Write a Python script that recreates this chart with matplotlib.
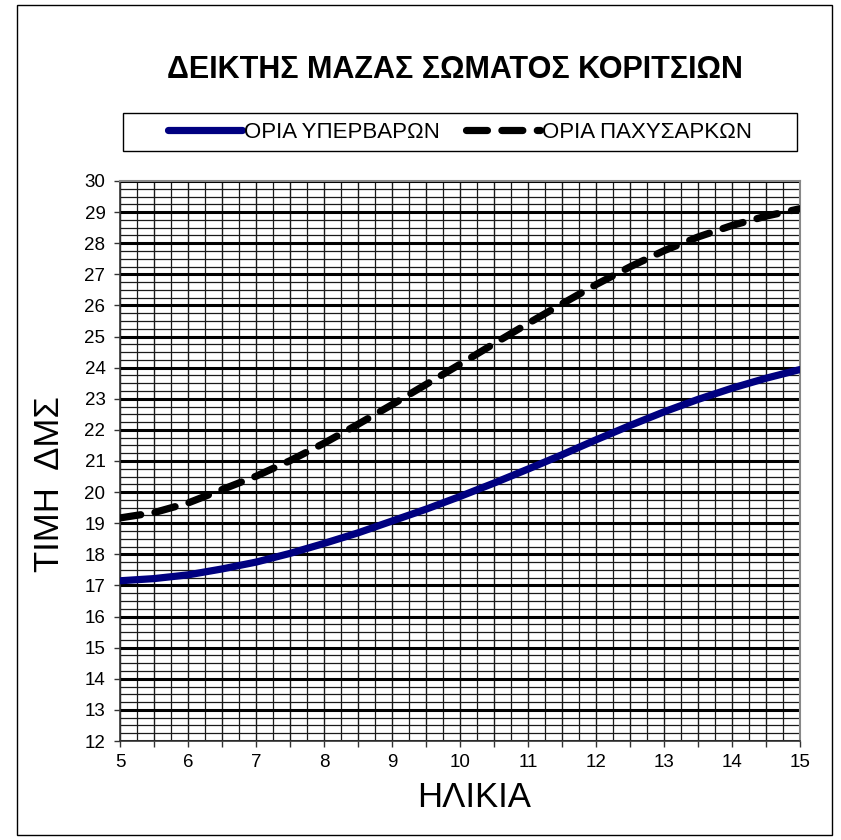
"""
BMI cut-off curves for girls (overweight / obese), 5-15 years.
"""

import matplotlib.pyplot as plt
import numpy as np
from matplotlib.patches import Rectangle

ages = [5, 5.5, 6, 6.5, 7, 7.5, 8, 8.5, 9, 9.5, 10,
        10.5, 11, 11.5, 12, 12.5, 13, 13.5, 14, 14.5, 15]
overweight = [17.15, 17.22, 17.34, 17.53, 17.75, 18.03, 18.35, 18.69, 19.07, 19.45, 19.86,
              20.29, 20.74, 21.20, 21.68, 22.14, 22.58, 22.98, 23.34, 23.66, 23.94]
obese = [19.17, 19.34, 19.65, 20.08, 20.51, 21.01, 21.57, 22.18, 22.81, 23.46, 24.11,
         24.77, 25.42, 26.05, 26.67, 27.24, 27.76, 28.20, 28.57, 28.87, 29.11]

x_ticks = [5, 5.5, 6, 6.5, 7, 7.5, 8, 8.5, 9, 9.5, 10, 10.5, 11, 11.5, 12, 12.5, 13, 13.5, 14, 14.5, 15]
x_labels = ["5", "", "6", "", "7", "", "8", "", "9", "", "10", "", "11", "", "12", "", "13", "", "14", "", "15"]
y_ticks = list(range(12, 31))

title = "ΔΕΙΚΤΗΣ ΜΑΖΑΣ ΣΩΜΑΤΟΣ ΚΟΡΙΤΣΙΩΝ"
series_names = ["ΟΡΙΑ ΥΠΕΡΒΑΡΩΝ", "ΟΡΙΑ ΠΑΧΥΣΑΡΚΩΝ"]

plt.rcParams["font.family"] = ["Liberation Sans", "DejaVu Sans"]

W, H = 841, 840
fig = plt.figure(figsize=(W / 100, H / 100), dpi=100)

# outer chart border
fig.patches.append(Rectangle((17 / W, 5 / H), (832 - 17) / W, (835 - 5) / H,
                             transform=fig.transFigure, fill=False, edgecolor="black", lw=1.0))

ax = fig.add_axes([120 / W, 1 - 741 / H, 680 / W, 560 / H])

ax.plot(ages, overweight, color="#000080", lw=5.2, solid_capstyle="round",
        solid_joinstyle="round", label=series_names[0], zorder=5)
ax.plot(ages, obese, color="black", lw=5.2, dashes=(2.9, 2.0), dash_capstyle="round",
        label=series_names[1], zorder=5)

ax.set_xlim(5, 15)
ax.set_ylim(12, 30)
ax.set_xticks(x_ticks)
ax.set_xticklabels(x_labels)
ax.set_yticks(y_ticks)
ax.set_xticks(np.arange(5, 15.01, 0.25), minor=True)
ax.set_yticks(np.arange(12, 30.01, 0.25), minor=True)

ax.grid(which="minor", color="#1a1a1a", lw=0.9)
ax.xaxis.grid(which="major", color="#1a1a1a", lw=1.0)
ax.yaxis.grid(which="major", color="black", lw=2.2)
ax.set_axisbelow(True)

ax.tick_params(which="major", direction="out", length=4.5, width=1, color="#333333", labelsize=13.5)
ax.tick_params(axis="y", pad=6)
ax.tick_params(axis="x", pad=5)
ax.tick_params(which="minor", length=0)

for side in ["top", "right"]:
    ax.spines[side].set_color("#888888")
    ax.spines[side].set_linewidth(1.5)
for side in ["left", "bottom"]:
    ax.spines[side].set_color("#333333")
    ax.spines[side].set_linewidth(1.2)

ax.set_xlabel("ΗΛΙΚΙΑ", fontsize=25, va="top")
ax.xaxis.set_label_coords((474 - 120) / 680, (741 - 781) / 560)
ax.set_ylabel("ΤΙΜΗ  ΔΜΣ", fontsize=25)
ax.yaxis.set_label_coords((66 - 120) / 680, (741 - 484) / 560)

fig.text(455 / W, 1 - 70 / H, title, ha="center", va="center",
         fontsize=22, fontweight="bold")

# legend box
fig.patches.append(Rectangle((123 / W, 1 - 151 / H), 674 / W, 38 / H,
                             transform=fig.transFigure, fill=False, edgecolor="black", lw=1.0))
fig.legend(loc="center", bbox_to_anchor=(460 / W, 1 - 132 / H), ncol=2, frameon=False,
           prop={"size": 16}, handlelength=3.3, handletextpad=0.1,
           columnspacing=1.2)

fig.savefig("out.png", dpi=100)
